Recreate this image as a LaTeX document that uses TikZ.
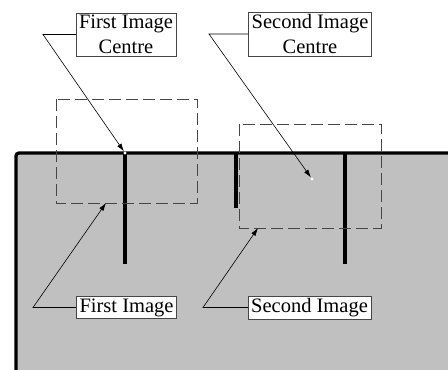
\documentclass[tikz,border=0pt]{standalone}
\usepackage{fontspec}
\setmainfont{Liberation Serif}
\usetikzlibrary{positioning, arrows.meta}
\definecolor{plategray}{RGB}{192,192,192}
\definecolor{framegray}{RGB}{70,70,70}

\tikzset{
  callout/.style={draw=framegray, fill=white, align=center, inner xsep=3pt, inner ysep=2pt,
                  font=\fontsize{20.5}{25}\selectfont},
  leader/.style={-{Latex[length=8pt,width=5pt]}, line width=0.6pt},
  imgframe/.style={draw=framegray, dash pattern=on 12pt off 5pt, line width=1pt},
  edge/.style={line width=3.3pt},
  centredot/.style={circle, fill=white, inner sep=1.2pt},
}

\begin{document}
\begin{tikzpicture}[x=1pt,y=-1pt]
  \useasboundingbox (0,0) rectangle (448,370);

  % plate and slots
  \fill[plategray] (16,153) rectangle (448,370);
  \draw[edge, rounded corners=3pt] (16,370) -- (16,153) -- (448,153);
  \draw[edge] (125,153) -- (125,264);
  \draw[edge] (236,153) -- (236,208);
  \draw[edge] (345,153) -- (345,264);

  % image frames
  \draw[imgframe] (56,99) rectangle (197,203);
  \draw[imgframe] (239,124) rectangle (381,228);
  \coordinate (frame1) at (106,203);
  \coordinate (frame2) at (258,228);

  % centres
  \node[centredot] (centre1) at (125,153) {};
  \node[centredot] (centre2) at (312,179) {};

  % labels
  \node[callout] (labc1) at (126,34.5) {First Image\\Centre};
  \node[callout] (labc2) at (310,34) {Second Image\\Centre};
  \node[callout] (labi1) at (126.5,307.5) {First Image};
  \node[callout] (labi2) at (309.5,307.5) {Second Image};

  % leaders
  \coordinate (bendc1) at (43,34.5);
  \coordinate (bendc2) at (209,34);
  \coordinate (bendi1) at (33,307.5);
  \coordinate (bendi2) at (203,307.5);
  \draw[leader] (labc1.west) -- (bendc1) -- (centre1);
  \draw[leader] (labc2.west) -- (bendc2) -- (centre2);
  \draw[leader] (labi1.west) -- (bendi1) -- (frame1);
  \draw[leader] (labi2.west) -- (bendi2) -- (frame2);
\end{tikzpicture}
\end{document}
